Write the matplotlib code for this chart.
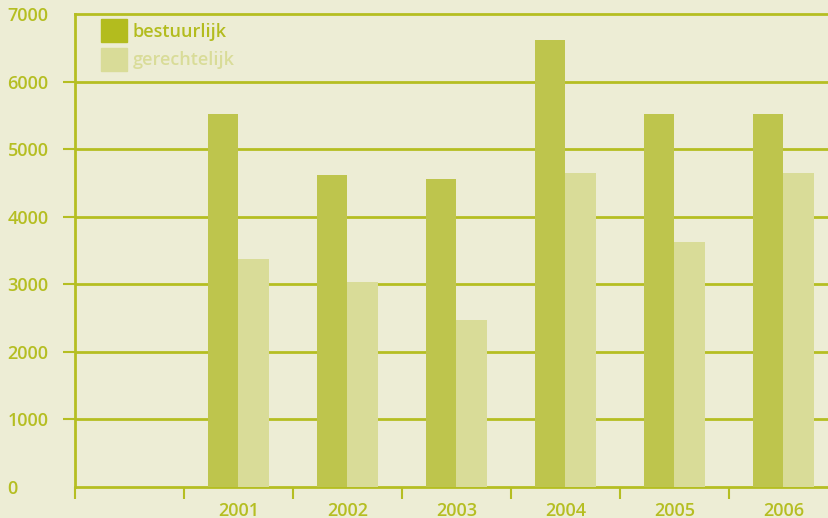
import matplotlib.pyplot as plt
from matplotlib.patches import Patch
import numpy as np

# Data
years = ['', '2001', '2002', '2003', '2004', '2005', '2006']
bestuurlijk = [0, 5520, 4610, 4560, 6610, 5520, 5520]
gerechtelijk = [0, 3370, 3040, 2470, 4650, 3620, 4650]

bg = '#ededd5'
line_col = '#b5be22'
dark_bar = '#bec54d'
light_bar = '#d9dc98'
legend_dark = '#b3bc1e'
font = ['Open Sans', 'DejaVu Sans']

fig = plt.figure(figsize=(8.29, 5.18), dpi=100, facecolor=bg)
ax = fig.add_axes([75 / 829, 1 - 487 / 518, 763 / 829, 473 / 518])
ax.set_facecolor(bg)

x = np.arange(len(years))
w = 0.28
ax.bar(x[1:] - w / 2, bestuurlijk[1:], w, color=dark_bar, zorder=3)
ax.bar(x[1:] + w / 2, gerechtelijk[1:], w, color=light_bar, zorder=3)

ax.set_xlim(-0.5, len(years) - 0.5)
ax.set_ylim(0, 7000)

# gridlines
for v in range(1000, 7000, 1000):
    ax.axhline(v, color=line_col, lw=2, zorder=1)

ax.spines['right'].set_visible(False)
for s in ['left', 'bottom', 'top']:
    ax.spines[s].set_color(line_col)
    ax.spines[s].set_linewidth(2)

# y axis
ax.set_yticks(range(0, 7001, 1000))
ax.set_yticklabels([str(v) for v in range(0, 7001, 1000)], family=font,
                   fontsize=13, fontweight='semibold', color=line_col, ha='left')
ax.tick_params(axis='y', length=12 * 0.72, width=1.5, color=line_col, pad=40)
yt = ax.yaxis.get_major_ticks()
yt[0].tick1line.set_visible(False)
yt[-1].tick1line.set_visible(False)

# x axis: ticks on category boundaries, labels in centers
ax.set_xticks(np.arange(len(years)) - 0.5)
ax.set_xticklabels([])
ax.tick_params(axis='x', length=12 * 0.72, width=1.5, color=line_col)
ax.set_xticks(x, minor=True)
ax.set_xticklabels(years, minor=True, family=font, fontsize=13,
                   fontweight='semibold', color=line_col)
ax.tick_params(axis='x', which='minor', length=0, pad=11)

handles = [Patch(color=legend_dark), Patch(color=light_bar)]
leg = ax.legend(handles, ['bestuurlijk', 'gerechtelijk'], loc='upper left',
                bbox_to_anchor=(0.02, 1.012), frameon=False,
                prop={'family': font, 'size': 13, 'weight': 'semibold'},
                handlelength=1.45, handleheight=1.6, handletextpad=0.3,
                labelspacing=0.3, borderaxespad=0.2)
for t, c in zip(leg.get_texts(), [legend_dark, light_bar]):
    t.set_color(c)

fig.savefig('out.png', dpi=100, facecolor=bg)
